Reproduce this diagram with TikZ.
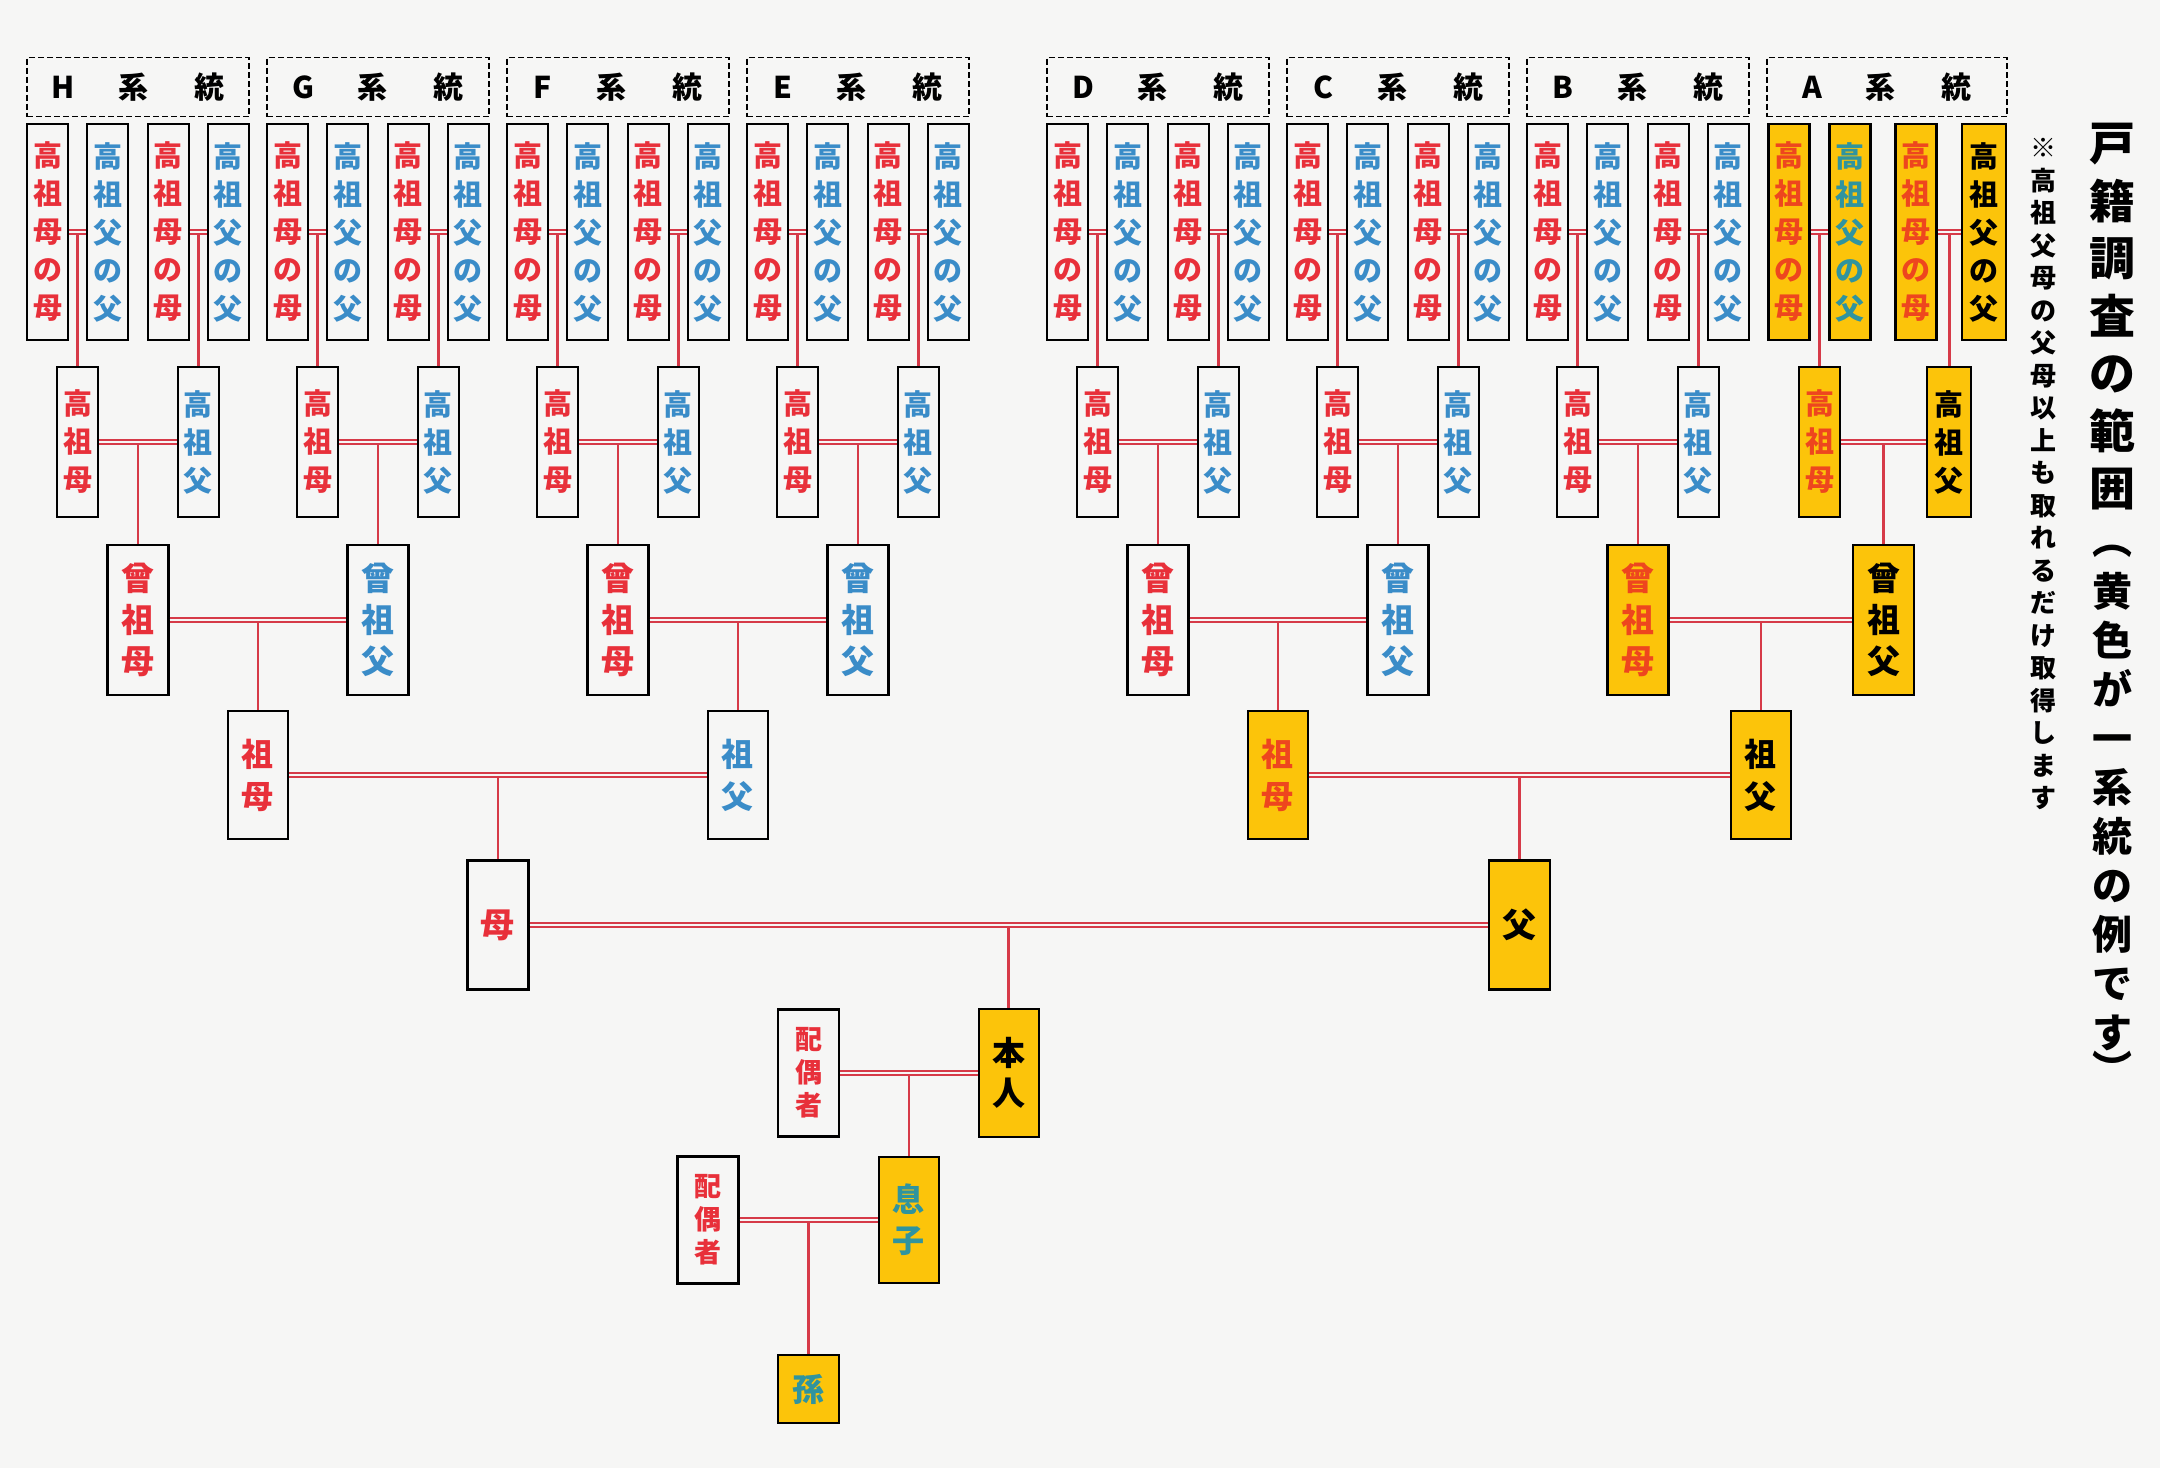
\documentclass[tikz,border=0pt]{standalone}
\usepackage{fontspec}
\usetikzlibrary{calc}

\newfontfamily\jp{Noto Sans CJK JP}

\definecolor{paper}{RGB}{246,246,245}
\definecolor{linkred}{RGB}{214,58,72}
\definecolor{femred}{RGB}{232,48,58}
\definecolor{mascblue}{RGB}{58,140,200}
\definecolor{gold}{RGB}{252,196,10}
\definecolor{goldred}{RGB}{238,70,30}
\definecolor{goldblue}{RGB}{48,148,158}

\begin{document}
\begin{tikzpicture}[x=1pt, y=-1pt,
    pbox/.style={draw, line width=2.2pt, inner sep=0pt, fill=paper, align=center},
    fem/.style={pbox, text=femred},
    masc/.style={pbox, text=mascblue},
    yfem/.style={pbox, fill=gold, text=goldred},
    ymasc/.style={pbox, fill=gold, text=black},
    yson/.style={pbox, fill=gold, text=goldblue},
    gen1/.style={minimum width=41pt, minimum height=216pt, font=\jp\bfseries\fontsize{29}{38}\selectfont},
    gen2/.style={minimum width=41pt, minimum height=150pt, font=\jp\bfseries\fontsize{29}{38}\selectfont},
    gen3/.style={minimum width=61pt, minimum height=150pt, font=\jp\bfseries\fontsize{33}{41.5}\selectfont},
    gen4/.style={minimum width=60pt, minimum height=128pt, font=\jp\bfseries\fontsize{32}{42}\selectfont},
    gen5/.style={minimum width=61pt, minimum height=129pt, font=\jp\bfseries\fontsize{34}{40}\selectfont},
    spouse/.style={minimum width=61pt, minimum height=127pt, font=\jp\bfseries\fontsize{27}{33}\selectfont},
    kid/.style={minimum width=60pt, minimum height=126pt, font=\jp\bfseries\fontsize{32}{41}\selectfont},
    head/.style={draw, line width=1.8pt, dash pattern=on 6pt off 3pt, minimum width=222pt,
        minimum height=59pt, inner sep=0pt, fill=paper, font=\jp\bfseries\fontsize{30}{30}\selectfont},
    tie/.style={draw=linkred, line width=1.6pt, double=paper, double distance=2.2pt},
    drop/.style={draw=linkred, line width=2.6pt}]

        % PAPER
        \fill[paper] (0,0) rectangle (2160,1468);
        \useasboundingbox (0,0) rectangle (2160,1468);

        % TOP ROWS, GROUPS H TO B
        \foreach \g/\s in {H/27, G/267, F/507, E/747, D/1047, C/1287, B/1527} {
            \node[head] (\g HEAD) at (\s+111, 87) {\g\hspace{44pt}系\hspace{46pt}統};
            \node[fem, gen1] (\g1) at (\s+20.5, 232) {高\\祖\\母\\の\\母};
            \node[masc, gen1] (\g2) at (\s+80.8, 232) {高\\祖\\父\\の\\父};
            \node[fem, gen1] (\g3) at (\s+141.1, 232) {高\\祖\\母\\の\\母};
            \node[masc, gen1] (\g4) at (\s+201.4, 232) {高\\祖\\父\\の\\父};
            \node[fem, gen2] (\g M) at ($(\g1.east)!0.5!(\g2.west) + (0,210)$) {高\\祖\\母};
            \node[masc, gen2] (\g F) at ($(\g3.east)!0.5!(\g4.west) + (0,210)$) {高\\祖\\父};
            \draw[drop] (\g M.north) -- (\g M.north |- \g1.east);
            \draw[drop] (\g F.north) -- (\g F.north |- \g3.east);
            \draw[tie] (\g1) -- (\g2);
            \draw[tie] (\g3) -- (\g4);
        }

        % GROUP A
        \node[head, minimum width=240pt] (AHEAD) at (1887, 87) {A\hspace{44pt}系\hspace{46pt}統};
        \node[yfem, gen1] (A1) at (1789, 232) {高\\祖\\母\\の\\母};
        \node[yson, gen1] (A2) at (1850, 232) {高\\祖\\父\\の\\父};
        \node[yfem, gen1] (A3) at (1916, 232) {高\\祖\\母\\の\\母};
        \node[ymasc, gen1, minimum width=44pt] (A4) at (1984, 232) {高\\祖\\父\\の\\父};
        \node[yfem, gen2] (AM) at ($(A1.east)!0.5!(A2.west) + (0,210)$) {高\\祖\\母};
        \node[ymasc, gen2, minimum width=44pt] (AF) at ($(A3.east)!0.5!(A4.west) + (0,210)$) {高\\祖\\父};
        \draw[drop] (AM.north) -- (AM.north |- A1.east);
        \draw[drop] (AF.north) -- (AF.north |- A3.east);
        \draw[tie] (A1) -- (A2);
        \draw[tie] (A3) -- (A4);

        % GREAT GRANDPARENTS
        \foreach \g/\lab/\sty in {H/母/fem, G/父/masc, F/母/fem, E/父/masc,
                                 D/母/fem, C/父/masc, B/母/yfem, A/父/ymasc} {
            \node[\sty, gen3] (\g S) at ($(\g M.east)!0.5!(\g F.west) + (0,178)$) {曾\\祖\\\lab};
            \draw[drop] (\g S.north) -- (\g S.north |- \g M.east);
            \draw[tie] (\g M) -- (\g F);
        }

        % GRANDPARENTS
        \node[fem, gen4] (SOBOL) at ($(HS.east)!0.5!(GS.west) + (0,155)$) {祖\\母};
        \node[masc, gen4] (SOFUL) at ($(FS.east)!0.5!(ES.west) + (0,155)$) {祖\\父};
        \node[yfem, gen4] (SOBOR) at ($(DS.east)!0.5!(CS.west) + (0,155)$) {祖\\母};
        \node[ymasc, gen4] (SOFUR) at ($(BS.east)!0.5!(AS.west) + (0,155)$) {祖\\父};
        \draw[drop] (SOBOL.north) -- (SOBOL.north |- HS.east);
        \draw[drop] (SOFUL.north) -- (SOFUL.north |- FS.east);
        \draw[drop] (SOBOR.north) -- (SOBOR.north |- DS.east);
        \draw[drop] (SOFUR.north) -- (SOFUR.north |- BS.east);
        \draw[tie] (HS) -- (GS);
        \draw[tie] (FS) -- (ES);
        \draw[tie] (DS) -- (CS);
        \draw[tie] (BS) -- (AS);

        % PARENTS
        \node[fem, gen5] (HAHA) at ($(SOBOL.east)!0.5!(SOFUL.west) + (0,150)$) {母};
        \node[ymasc, gen5] (CHICHI) at ($(SOBOR.east)!0.5!(SOFUR.west) + (0,150)$) {父};
        \draw[drop] (HAHA.north) -- (HAHA.north |- SOBOL.east);
        \draw[drop] (CHICHI.north) -- (CHICHI.north |- SOBOR.east);
        \draw[tie] (SOBOL) -- (SOFUL);
        \draw[tie] (SOBOR) -- (SOFUR);

        % SELF AND SPOUSE
        \node[ymasc, gen4, font=\jp\bfseries\fontsize{33}{40}\selectfont] (HONNIN) at ($(HAHA.east)!0.5!(CHICHI.west) + (0,148)$) {本\\人};
        \node[fem, spouse] (SPOUSEA) at ($(HONNIN) + (-200,0)$) {配\\偶\\者};
        \draw[drop] (HONNIN.north) -- (HONNIN.north |- HAHA.east);
        \draw[tie] (HAHA) -- (CHICHI);

        % SON AND SPOUSE
        \node[yson, kid] (MUSUKO) at ($(SPOUSEA.east)!0.5!(HONNIN.west) + (0,147)$) {息\\子};
        \node[fem, spouse] (SPOUSEB) at ($(MUSUKO) + (-201,0)$) {配\\偶\\者};
        \draw[drop] (MUSUKO.north) -- (MUSUKO.north |- SPOUSEA.east);
        \draw[tie] (SPOUSEA) -- (HONNIN);

        % GRANDCHILD
        \node[yson, kid, minimum height=68pt, minimum width=61pt] (MAGO) at ($(SPOUSEB.east)!0.5!(MUSUKO.west) + (0,169)$) {孫};
        \draw[drop] (MAGO.north) -- (MAGO.north |- SPOUSEB.east);
        \draw[tie] (SPOUSEB) -- (MUSUKO);

        % TITLE AND NOTE
        \node[font=\jp\bfseries\fontsize{46}{57.5}\selectfont, align=center] (TITLE) at (2112, 317) {戸\\籍\\調\\査\\の\\範\\囲};
        \node[font=\jp\bfseries\fontsize{40}{49}\selectfont] (OPEN) at (2112, 551) {︵};
        \node[font=\jp\bfseries\fontsize{40}{49}\selectfont, align=center] (TITLEB) at (2112, 812) {黄\\色\\が\\一\\系\\統\\の\\例\\で\\す};
        \node[font=\jp\bfseries\fontsize{40}{49}\selectfont] (CLOSE) at (2112, 1068) {︶};
        \node[font=\jp\bfseries\fontsize{26}{32.5}\selectfont, align=center] (NOTE) at (2043, 474)
            {※\\高\\祖\\父\\母\\の\\父\\母\\以\\上\\も\\取\\れ\\る\\だ\\け\\取\\得\\し\\ま\\す};

    \end{tikzpicture}
\end{document}
